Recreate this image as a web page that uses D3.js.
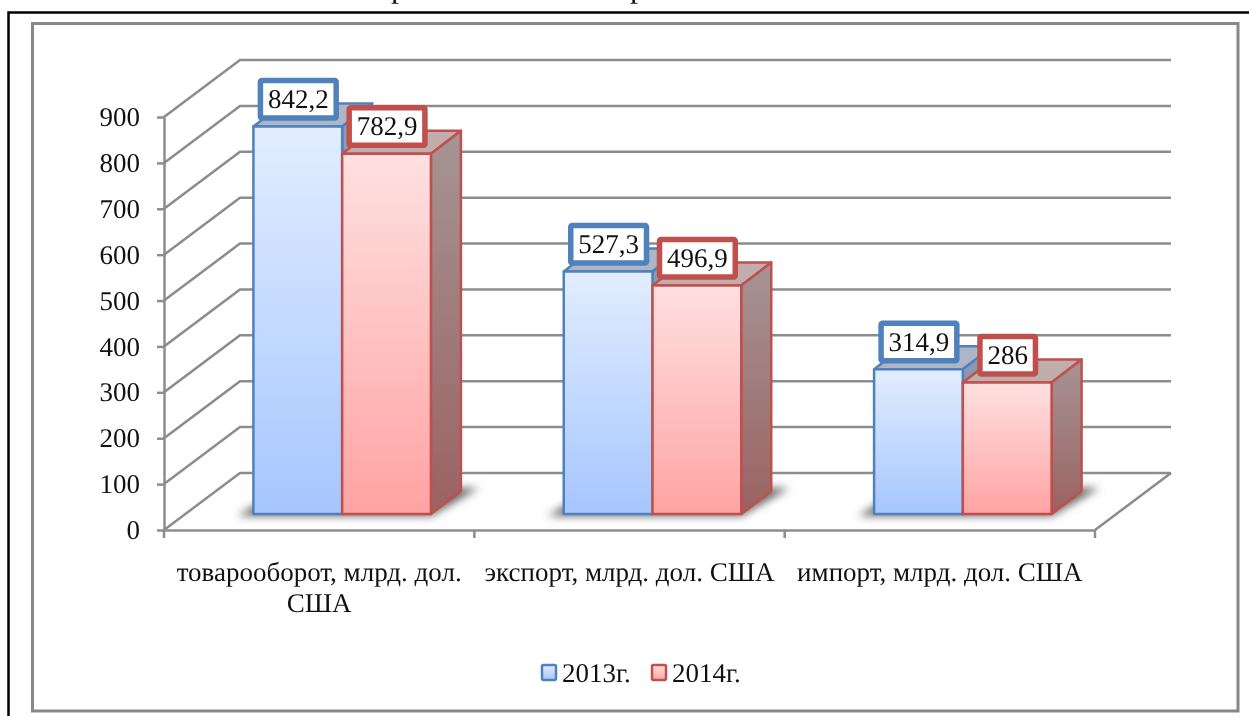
<!DOCTYPE html>
<html>
<head>
<meta charset="utf-8">
<script src="https://cdn.jsdelivr.net/npm/d3@7"></script>
<style>
  html, body { margin: 0; padding: 0; background: #fff; overflow: hidden; }
  svg { display: block; filter: blur(0.45px); }
  text { font-family: "Liberation Serif", serif; font-size: 27px; fill: #111; text-rendering: geometricPrecision; }
</style>
</head>
<body>
<script>
// chart data
var categories = ["товарооборот, млрд. дол. США", "экспорт, млрд. дол. США", "импорт, млрд. дол. США"];
var categoryLines = [["товарооборот, млрд. дол.", "США"], ["экспорт, млрд. дол. США"], ["импорт, млрд. дол. США"]];
var seriesNames = ["2013г.", "2014г."];
var values2013 = [842.2, 527.3, 314.9];
var values2014 = [782.9, 496.9, 286];
var labels2013 = ["842,2", "527,3", "314,9"];
var labels2014 = ["782,9", "496,9", "286"];
var yTicks = [0, 100, 200, 300, 400, 500, 600, 700, 800, 900];

var width = 1249, height = 716;
var gray = "#8c8c8c";

var palette = [
  { line: "#4f81bd", top: "#adb6c6", sideA: "#929db0", sideB: "#5f7ca8", frontA: "#e2edff", frontB: "#a6c6ff" },
  { line: "#c0504d", top: "#c2adad", sideA: "#a69494", sideB: "#9b6262", frontA: "#ffe0e0", frontB: "#ffa3a3" }
];

// 3d projection of the box
var wall = { dx: 76, dy: 57 };
var bar = { dx: 30, dy: 23, shift: 23, groupWidth: 177.5 };

var y = d3.scaleLinear().domain([0, 900]).range([530, 117]);
var yBar = d3.scaleLinear().domain([0, 900]).range([514, 100]);
var x = d3.scaleBand().domain(categories).range([164, 1095]);
var xSeries = d3.scaleBand().domain(seriesNames).range([0, bar.groupWidth]);

var svg = d3.select("body").append("svg").attr("width", width).attr("height", height);
var defs = svg.append("defs");

function addGradient(id, a, b) {
  var g = defs.append("linearGradient").attr("id", id)
    .attr("x1", 0).attr("y1", 0).attr("x2", 0).attr("y2", 1);
  g.append("stop").attr("offset", "0%").attr("stop-color", a);
  g.append("stop").attr("offset", "100%").attr("stop-color", b);
}
palette.forEach(function(p, i) {
  addGradient("front" + i, p.frontA, p.frontB);
  addGradient("side" + i, p.sideA, p.sideB);
});
defs.append("filter").attr("id", "soft")
  .attr("x", "-10%").attr("y", "-50%").attr("width", "120%").attr("height", "200%")
  .append("feGaussianBlur").attr("stdDeviation", 4);

// outer frames and what is left of the clipped heading
svg.append("path").attr("d", "M8.5,716V12.5H1249").attr("fill", "none").attr("stroke", "#000").attr("stroke-width", 2.5);
svg.append("rect").attr("x", 32.5).attr("y", 23.5).attr("width", 1205.5).attr("height", 687.5)
  .attr("fill", "#fff").attr("stroke", "#888").attr("stroke-width", 3);
[399, 638].forEach(function(px) {
  svg.append("text").attr("x", px).attr("y", -3.5).attr("text-anchor", "middle").style("font-size", "32px").text("р");
});

// walls and floor
var walls = svg.append("g").attr("fill", "none").attr("stroke", gray).attr("stroke-width", 2.5);
walls.selectAll("path.grid").data(yTicks).enter().append("path")
  .attr("class", "grid")
  .attr("d", function(d) {
    var x0 = x.range()[0], x1 = x.range()[1];
    return "M" + x0 + "," + y(d) + "L" + (x0 + wall.dx) + "," + (y(d) - wall.dy) + "H" + (x1 + wall.dx);
  });
walls.append("path")
  .attr("d", "M" + x.range()[1] + "," + y(0) + "L" + (x.range()[1] + wall.dx) + "," + (y(0) - wall.dy));

// axes
var yAxis = svg.append("g").attr("transform", "translate(164,0)")
  .call(d3.axisLeft(y).tickValues(yTicks).tickSize(7).tickSizeOuter(0).tickPadding(17));
var xAxis = svg.append("g").attr("transform", "translate(0," + y(0) + ")")
  .call(d3.axisBottom(x).tickSize(0).tickSizeOuter(0).tickFormat(""));
[yAxis, xAxis].forEach(function(a) {
  a.selectAll("path, line").attr("stroke", gray).attr("stroke-width", 2.5);
});
yAxis.selectAll("text").style("font-size", "27px").attr("fill", "#111");

var boundaries = categories.map(function(c) { return x(c); }).concat([x.range()[1]]);
svg.selectAll("line.xtick").data(boundaries).enter().append("line")
  .attr("class", "xtick")
  .attr("x1", function(d) { return d; }).attr("x2", function(d) { return d; })
  .attr("y1", y(0)).attr("y2", y(0) + 8)
  .attr("stroke", gray).attr("stroke-width", 2.5);

// category labels
categories.forEach(function(c, i) {
  var t = svg.append("text").attr("text-anchor", "middle")
    .attr("x", x(c) + x.bandwidth() / 2).attr("y", 581);
  categoryLines[i].forEach(function(line, k) {
    t.append("tspan").attr("x", x(c) + x.bandwidth() / 2).attr("dy", k ? 31 : 0).text(line);
  });
});

// one 3d bar
function barLeft(c, s) {
  return x(c) + (x.bandwidth() - bar.groupWidth) / 2 + bar.shift + xSeries(s);
}

function drawBar(c, s, v, i) {
  var x0 = barLeft(c, s), w = xSeries.bandwidth(), top = yBar(v), base = yBar(0);
  var p = palette[i];
  var g = svg.append("g").attr("stroke", p.line).attr("stroke-width", 2.5).attr("stroke-linejoin", "round");
  g.append("path")
    .attr("d", "M" + x0 + "," + top + "l" + bar.dx + "," + (-bar.dy) + "h" + w + "l" + (-bar.dx) + "," + bar.dy + "z")
    .attr("fill", p.top);
  g.append("path")
    .attr("d", "M" + (x0 + w) + "," + top + "l" + bar.dx + "," + (-bar.dy) + "V" + (base - bar.dy) + "l" + (-bar.dx) + "," + bar.dy + "z")
    .attr("fill", "url(#side" + i + ")");
  g.append("rect").attr("x", x0).attr("y", top).attr("width", w).attr("height", base - top)
    .attr("fill", "url(#front" + i + ")");
}

// floor shadows go under all the bars
categories.forEach(function(c) {
  var x0 = barLeft(c, seriesNames[0]), base = yBar(0);
  svg.append("path")
    .attr("d", "M" + (x0 - 16) + "," + (base + 2) + "L" + (x0 + bar.dx) + "," + (base - bar.dy - 3) +
      "H" + (x0 + bar.groupWidth + 48) + "L" + (x0 + bar.groupWidth) + "," + (base + 2) + "z")
    .attr("fill", "#666").attr("filter", "url(#soft)");
});

categories.forEach(function(c, k) {
  drawBar(c, seriesNames[0], values2013[k], 0);
  drawBar(c, seriesNames[1], values2014[k], 1);
});

// value labels sit in framed boxes above the front face
function drawLabel(c, s, v, txt, i) {
  var cx = barLeft(c, s) + xSeries.bandwidth() / 2 + 0.5, cy = yBar(v) - 27.5;
  var g = svg.append("g");
  var r = g.append("rect").attr("fill", "#fff").attr("stroke", palette[i].line)
    .attr("stroke-width", 5.5).attr("rx", 1.5);
  var t = g.append("text").attr("text-anchor", "middle").attr("x", cx).attr("y", cy + 9).text(txt);
  var tw = t.node().getComputedTextLength();
  r.attr("x", cx - tw / 2 - 7.5).attr("y", cy - 18.5).attr("width", tw + 15).attr("height", 37.5);
}
categories.forEach(function(c, k) {
  drawLabel(c, seriesNames[0], values2013[k], labels2013[k], 0);
  drawLabel(c, seriesNames[1], values2014[k], labels2014[k], 1);
});

// legend
var legendX = d3.scaleOrdinal().domain(seriesNames).range([542, 652]);
seriesNames.forEach(function(s, i) {
  var g = svg.append("g").attr("transform", "translate(" + legendX(s) + ",665)");
  g.append("rect").attr("width", 14).attr("height", 15).attr("rx", 1.5)
    .attr("fill", "url(#front" + i + ")").attr("stroke", palette[i].line).attr("stroke-width", 2.5);
  g.append("text").attr("x", 20).attr("y", 17).text(s);
});
</script>
</body>
</html>
